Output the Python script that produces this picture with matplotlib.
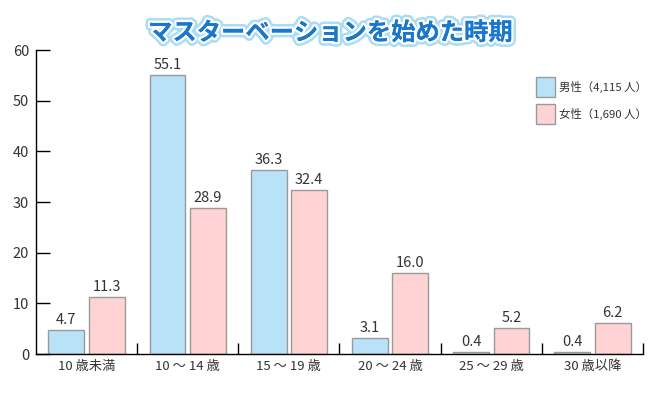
import matplotlib
matplotlib.use("Agg")
import matplotlib.pyplot as plt
import matplotlib.patheffects as pe
import numpy as np

plt.rcParams['font.family'] = ['Noto Sans CJK JP', 'DejaVu Sans']

categories = ["10 歳未満", "10 ～ 14 歳", "15 ～ 19 歳", "20 ～ 24 歳", "25 ～ 29 歳", "30 歳以降"]
male = [4.7, 55.1, 36.3, 3.1, 0.4, 0.4]
female = [11.3, 28.9, 32.4, 16.0, 5.2, 6.2]
male_label = "男性（4,115 人）"
female_label = "女性（1,690 人）"
title = "マスターベーションを始めた時期"

fig = plt.figure(figsize=(6.56, 3.95), dpi=100)
ax = fig.add_axes([36/656, 1-354/395, (643-36)/656, (354-50)/395])

x = np.arange(len(categories))
w = 0.355
mc = "#b8e2f8"
fc = "#ffd3d3"
ec = "#9a9a9a"
bm = ax.bar(x - 0.2, male, w, color=mc, edgecolor=ec, linewidth=1, label=male_label)
bf = ax.bar(x + 0.2, female, w, color=fc, edgecolor=ec, linewidth=1, label=female_label)

for rect, v in zip(bm, male):
    ax.text(rect.get_x() + rect.get_width()/2, v + 0.6, f"{v:.1f}", ha="center", va="bottom",
            fontsize=10.5, color="#333333")
for rect, v in zip(bf, female):
    ax.text(rect.get_x() + rect.get_width()/2, v + 0.6, f"{v:.1f}", ha="center", va="bottom",
            fontsize=10.5, color="#333333")

ax.set_xlim(-0.5, len(categories) - 0.5)
ax.set_ylim(0, 60)
ax.set_yticks(range(0, 61, 10))
ax.tick_params(axis="y", direction="in", length=10, width=1, labelsize=10.5, pad=5,
               labelcolor="#333333", color="black")
ax.set_xticks(x)
ax.set_xticklabels(categories, fontsize=9.5, color="#333333")
ax.tick_params(axis="x", length=0, pad=4)
ax.set_xticks(np.arange(0.5, len(categories), 1), minor=True)
ax.tick_params(axis="x", which="minor", direction="in", length=8, width=1, color="black")
for s in ["top", "right"]:
    ax.spines[s].set_visible(False)
for s in ["left", "bottom"]:
    ax.spines[s].set_color("black")
    ax.spines[s].set_linewidth(1)

leg = fig.legend(handles=[bm, bf], labels=[male_label, female_label],
                 loc="upper left", bbox_to_anchor=(536/656, 1-77/395), frameon=False,
                 fontsize=8.2, borderpad=0, borderaxespad=0,
                 handlelength=1.65, handleheight=2.35, labelspacing=0.6, handletextpad=0.35)
for t in leg.get_texts():
    t.set_color("#333333")

fig.text(330/656, 1-33/395, title, ha="center", va="center", fontsize=17.5, fontweight="bold",
         color="#1a78cc",
         path_effects=[pe.withStroke(linewidth=7, foreground="#a9dcf5"),
                       pe.withStroke(linewidth=3.5, foreground="white"),
                       pe.Normal()])

fig.savefig("out.png", dpi=100)
